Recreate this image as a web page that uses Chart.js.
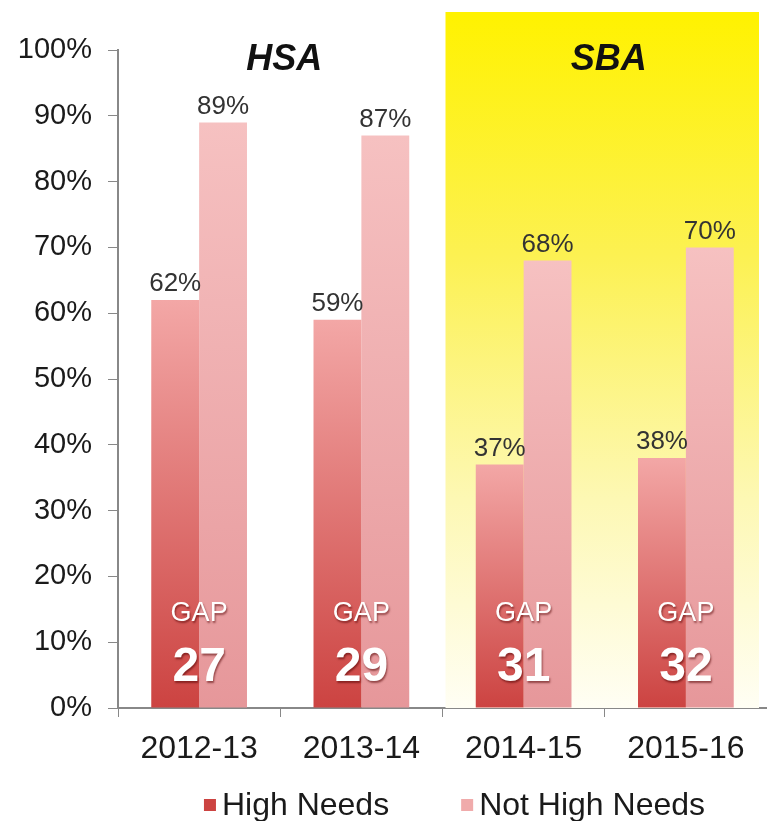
<!DOCTYPE html>
<html>
<head>
<meta charset="utf-8">
<script src="https://cdn.jsdelivr.net/npm/chart.js@4.4.1/dist/chart.umd.min.js"></script>
<style>
  body { margin: 0; background: #fff; }
  #wrap { width: 767px; height: 821px; }
</style>
</head>
<body>
<div id="wrap"><canvas id="myChart" width="767" height="821"></canvas></div>
<script>
// data
var years = ['2012-13', '2013-14', '2014-15', '2015-16'];
var highNeeds = [62, 59, 37, 38];
var notHighNeeds = [89, 87, 68, 70];
var gaps = [27, 29, 31, 32];
var testNames = ['HSA', 'SBA'];   // first two years / last two years
var legendColors = ['#cc4341', '#f0abab'];

var FONT = "'Liberation Sans', Arial, sans-serif";

// per-bar vertical gradient, dark at the bottom, light at the top
function barGradient(bottomCol, topCol) {
  return function(context) {
    var chart = context.chart;
    if (!chart.chartArea || context.parsed === undefined) return bottomCol;
    var y = chart.scales.y;
    var y0 = y.getPixelForValue(0);
    var y1 = y.getPixelForValue(context.parsed.y);
    if (!isFinite(y1) || y0 === y1) return bottomCol;
    var g = chart.ctx.createLinearGradient(0, y0, 0, y1);
    g.addColorStop(0, bottomCol);
    g.addColorStop(1, topCol);
    return g;
  };
}

// yellow box behind the SBA years + the HSA / SBA headings
var backdrop = {
  id: 'backdrop',
  beforeDatasetsDraw: function(chart) {
    var ctx = chart.ctx, x = chart.scales.x, a = chart.chartArea;
    var left = x.getPixelForValue(1.5) + 3;
    var right = a.right - 8;
    var top = a.top - 38;
    ctx.save();
    var g = ctx.createLinearGradient(0, top, 0, a.bottom);
    g.addColorStop(0, '#fff200');
    g.addColorStop(0.35, '#fcf152');
    g.addColorStop(0.7, '#fdf8b4');
    g.addColorStop(1, '#fffef4');
    ctx.fillStyle = g;
    ctx.fillRect(left, top, right - left, a.bottom - top);
    ctx.restore();
  },
  afterDatasetsDraw: function(chart) {
    var ctx = chart.ctx, x = chart.scales.x, a = chart.chartArea;
    ctx.save();
    ctx.fillStyle = '#111';
    ctx.font = 'italic bold 36px ' + FONT;
    ctx.textAlign = 'center';
    ctx.textBaseline = 'middle';
    ctx.fillText(testNames[0], x.getPixelForValue(0.5) + 4, a.top + 10);
    ctx.fillText(testNames[1], x.getPixelForValue(2.5) + 4, a.top + 10);
    ctx.restore();
  }
};

// value labels above bars, GAP labels at the foot of each pair, and the legend
var labels = {
  id: 'labels',
  afterDatasetsDraw: function(chart) {
    var ctx = chart.ctx, a = chart.chartArea, x = chart.scales.x;
    ctx.save();
    ctx.textAlign = 'center';
    ctx.textBaseline = 'bottom';
    ctx.font = '26px ' + FONT;
    ctx.fillStyle = '#333';
    chart.data.datasets.forEach(function(ds, i) {
      chart.getDatasetMeta(i).data.forEach(function(bar, j) {
        ctx.fillText(ds.data[j] + '%', bar.x, bar.y - 3);
      });
    });
    ctx.textBaseline = 'middle';
    ctx.shadowColor = 'rgba(80,0,0,0.55)';
    ctx.shadowOffsetX = 1;
    ctx.shadowOffsetY = 2;
    ctx.shadowBlur = 2;
    ctx.fillStyle = '#fff';
    gaps.forEach(function(gap, j) {
      var cx = x.getPixelForValue(j);
      ctx.font = '27px ' + FONT;
      ctx.fillText('GAP', cx, a.bottom - 94);
      ctx.font = 'bold 48px ' + FONT;
      ctx.fillText(String(gap), cx, a.bottom - 40);
    });
    ctx.restore();
  },
  afterDraw: function(chart) {
    var ctx = chart.ctx, a = chart.chartArea;
    var ds = chart.data.datasets;
    var box = 12, gap = 6, between = 72;
    ctx.save();
    ctx.font = '32px ' + FONT;
    ctx.textBaseline = 'middle';
    ctx.textAlign = 'left';
    var total = 0;
    ds.forEach(function(d, i) {
      total += box + gap + ctx.measureText(d.label).width + (i ? 0 : between);
    });
    var lx = (a.left + a.right) / 2 + 12 - total / 2;
    var ly = a.bottom + 97;
    ds.forEach(function(d, i) {
      ctx.fillStyle = legendColors[i];
      ctx.fillRect(lx, ly - box / 2, box, box);
      ctx.fillStyle = '#1a1a1a';
      ctx.fillText(d.label, lx + box + gap, ly + 1);
      lx += box + gap + ctx.measureText(d.label).width + between;
    });
    ctx.restore();
  }
};

var ctx = document.getElementById('myChart').getContext('2d');
var myChart = new Chart(ctx, {
  type: 'bar',
  data: {
    labels: years,
    datasets: [{
      label: 'High Needs',
      data: highNeeds,
      backgroundColor: barGradient('#cc4341', '#f3a7a6'),
      borderWidth: 0
    }, {
      label: 'Not High Needs',
      data: notHighNeeds,
      backgroundColor: barGradient('#e6979a', '#f6c1c1'),
      borderWidth: 0
    }]
  },
  options: {
    responsive: false,
    animation: false,
    layout: { padding: { top: 50, left: 0, right: 0, bottom: 0 } },
    datasets: { bar: { categoryPercentage: 0.59, barPercentage: 1.0 } },
    scales: {
      x: {
        afterFit: function(scale) { scale.height = 113; },
        grid: { drawOnChartArea: false, color: '#888', tickLength: 9, offset: true },
        border: { color: '#888', width: 2 },
        ticks: { color: '#1a1a1a', font: { family: FONT, size: 32 }, padding: 13 }
      },
      y: {
        min: 0,
        max: 100,
        afterFit: function(scale) { scale.width = 118; },
        grid: { drawOnChartArea: false, color: '#888', tickLength: 10 },
        border: { color: '#888', width: 2 },
        ticks: {
          stepSize: 10,
          color: '#1a1a1a',
          padding: 16,
          font: { family: FONT, size: 29 },
          callback: function(v) { return v + '%'; }
        }
      }
    },
    plugins: {
      legend: { display: false },
      tooltip: { enabled: false }
    }
  },
  plugins: [backdrop, labels]
});
</script>
</body>
</html>
